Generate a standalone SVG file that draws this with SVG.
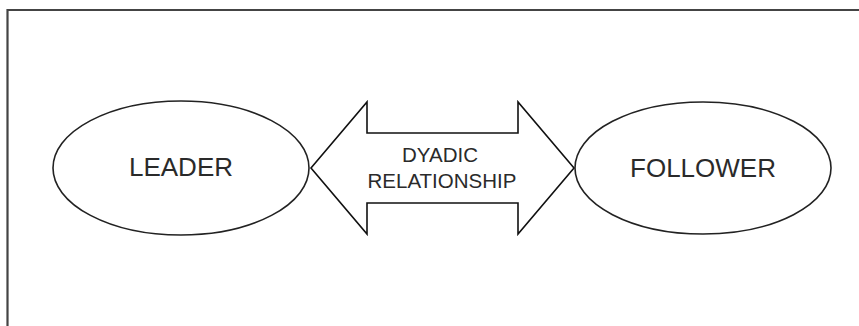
<svg xmlns="http://www.w3.org/2000/svg" width="859" height="326" viewBox="0 0 859 326">
<style>
.frame{fill:none;stroke:#444;stroke-width:2.2}
.node{fill:#fff;stroke:#222;stroke-width:1.6}
.arrow{fill:#fff;stroke:#111;stroke-width:1.6;stroke-linejoin:miter}
.lbl{font-family:"Liberation Sans",Arial,sans-serif;fill:#2a2a2a;text-anchor:middle}
.big{font-size:26px}
.small{font-size:20.5px}
</style>
<rect width="859" height="326" fill="#fff"/>
<path class="frame" d="M7.5,330 V10 H862"/>
<g id="connectors">
<g id="dyadic-relationship">
<polygon class="arrow" points="311,168 367,102 367,133 518,133 518,102 574,168 518,234 518,203 367,203 367,234"/>
<text class="lbl small" x="440" y="161.5">DYADIC</text>
<text class="lbl small" x="442" y="187.5">RELATIONSHIP</text>
</g>
</g>
<g id="leader">
<ellipse class="node" cx="181" cy="168" rx="128" ry="67"/>
<text class="lbl big" x="181" y="175.5">LEADER</text>
</g>
<g id="follower">
<ellipse class="node" cx="703" cy="168" rx="128" ry="66"/>
<text class="lbl big" x="703" y="176.5">FOLLOWER</text>
</g>
</svg>
